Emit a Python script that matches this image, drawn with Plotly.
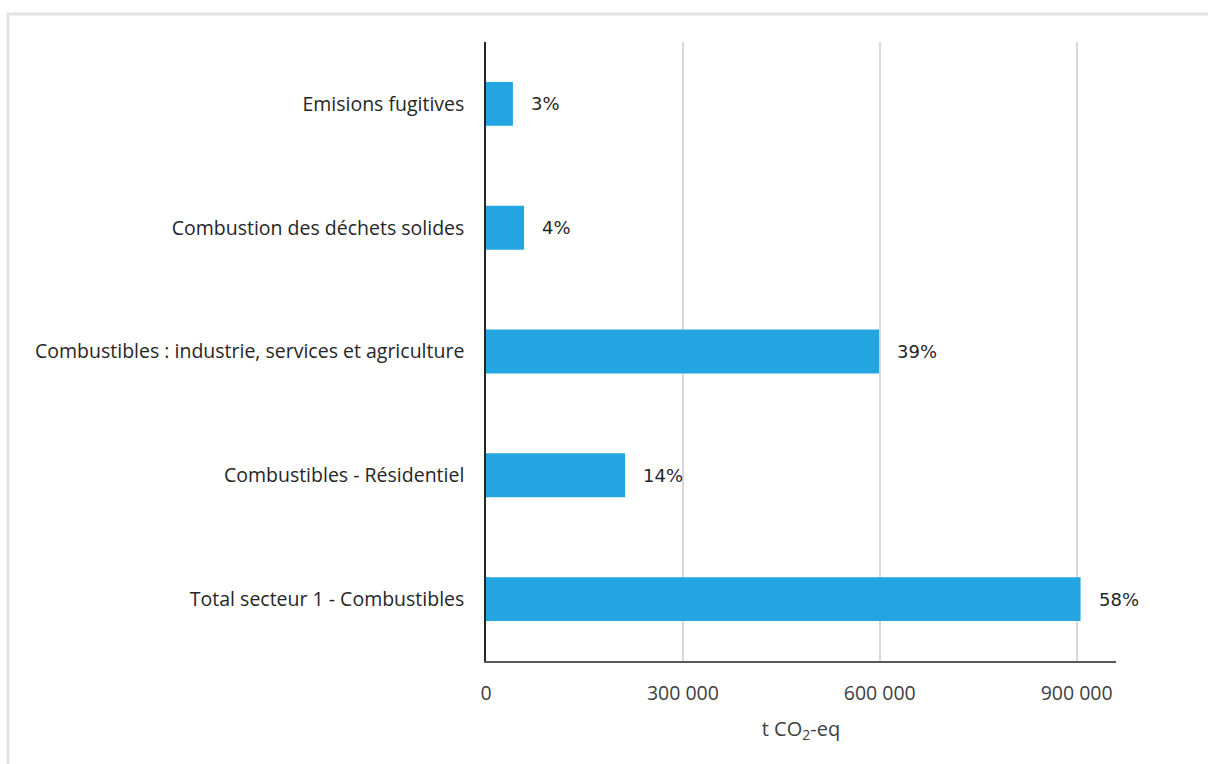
import plotly.graph_objects as go

categories = ["Total secteur 1 - Combustibles",
              "Combustibles - Résidentiel",
              "Combustibles : industrie, services et agriculture",
              "Combustion des déchets solides",
              "Emisions fugitives"]
values = [906000, 212000, 599000, 58000, 41000]
pct_labels = ["58%", "14%", "39%", "4%", "3%"]
tick_vals = [0, 300000, 600000, 900000]
tick_text = ["0", "300 000", "600 000", "900 000"]

W, H = 1208, 764
L, R, T, B = 486, 92, 42, 103
pw, ph = W - L - R, H - T - B

fig = go.Figure()
fig.add_trace(go.Bar(
    y=categories, x=values, orientation="h",
    marker=dict(color="#22a5e0", line=dict(width=0)),
    hoverinfo="x+y",
))

for c, v, t in zip(categories, values, pct_labels):
    fig.add_annotation(x=v, y=c, text=t, showarrow=False, xanchor="left",
                       xshift=16, font=dict(family="DejaVu Sans", size=18, color="#262626"))

# outer light border
fig.add_shape(type="rect", xref="paper", yref="paper",
              x0=(8 - L) / pw, x1=(1240 - L) / pw,
              y0=(H - B - 800) / ph, y1=(H - B - 14) / ph,
              line=dict(color="#e3e3e3", width=3), fillcolor="rgba(0,0,0,0)", layer="below")

fig.update_layout(
    width=W, height=H,
    margin=dict(l=L, r=R, t=T, b=B, pad=0),
    paper_bgcolor="white", plot_bgcolor="white",
    showlegend=False,
    bargap=0.645,
    font=dict(family="Open Sans", size=19.5, color="#404040"),
    xaxis=dict(range=[0, 960000], tickvals=tick_vals, ticktext=tick_text,
               showgrid=True, gridcolor="#d9d9d9", gridwidth=1.5,
               showline=True, linecolor="#595959", linewidth=1.5,
               zeroline=False, ticks="", ticklabelstandoff=14,
               title=dict(text="t CO<sub>2</sub>-eq", standoff=17,
                          font=dict(family="Open Sans", size=20, color="#404040")),
               tickfont=dict(family="Open Sans", size=19.5, color="#404040")),
    yaxis=dict(showline=True, linecolor="#262626", linewidth=1.5,
               showgrid=False, zeroline=False, ticks="", ticklabelstandoff=16,
               tickfont=dict(family="Open Sans", size=19.5, color="#262626")),
)

fig.write_html("out.html")
